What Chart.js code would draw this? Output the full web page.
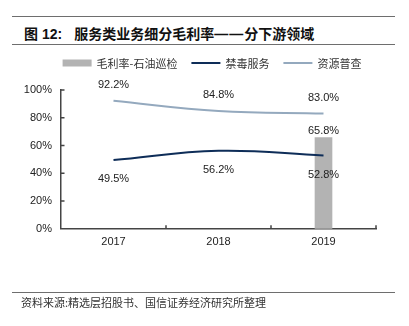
<!DOCTYPE html>
<html>
<head>
<meta charset="utf-8">
<script src="https://cdn.jsdelivr.net/npm/chart.js@4/dist/chart.umd.min.js"></script>
<style>
  html, body { margin: 0; padding: 0; background: #fff; }
  #wrap { position: relative; width: 409px; height: 326px; overflow: hidden; }
  #chart { position: absolute; left: 0; top: 0; }
  .rule { position: absolute; left: 12px; width: 383px; height: 0; border-top: 1.5px solid #6e6e6e; }
  #title { position: absolute; left: 24px; top: 23px; line-height: 18px; white-space: nowrap;
    font: bold 14px "Liberation Sans", "Noto Sans CJK SC", sans-serif; color: #111; }
  #title .num { margin-left: 4px; }
  #title .main { margin-left: 12px; }
  #title .dash { letter-spacing: 1px; }
  #source { position: absolute; left: 21px; top: 294px; line-height: 16px; white-space: nowrap;
    font: 11px "Noto Sans CJK SC", sans-serif; color: #333; }
</style>
</head>
<body>
<div id="wrap">
  <div class="rule" style="top:16px"></div>
  <div id="title"><span>图</span><span class="num">12:</span><span class="main">服务类业务细分毛利率</span><span class="dash">——</span><span>分下游领域</span></div>
  <div class="rule" style="top:44px"></div>
  <canvas id="chart" width="409" height="326"></canvas>
  <div class="rule" style="top:292px"></div>
  <div id="source">资料来源:精选层招股书、国信证券经济研究所整理</div>
</div>
<script>
const years = ["2017", "2018", "2019"]
const seriesNames = ["毛利率-石油巡检", "禁毒服务", "资源普查"]
const oilInspection = [null, null, 65.8]
const drugControl = [49.5, 56.2, 52.8]
const resourceSurvey = [92.2, 84.8, 83.0]
const yTicks = [0, 20, 40, 60, 80, 100]

const COLORS = {
  bar: "#b3b3b3",
  dark: "#0e2d58",
  light: "#94a9be",
  axis: "#444444",
  text: "#222222",
}
const LATIN = '"Liberation Sans", Arial, sans-serif'
const CJK = '"Noto Sans CJK SC", sans-serif'

function pct(v) {
  return v.toFixed(1) + "%"
}

// value labels: above for bar + top line, below for the dark line
const valueLabels = {
  id: "valueLabels",
  afterDatasetsDraw(chart) {
    const ctx = chart.ctx
    ctx.save()
    ctx.font = "11px " + LATIN
    ctx.fillStyle = COLORS.text
    ctx.textAlign = "center"
    ctx.textBaseline = "middle"
    chart.data.datasets.forEach((ds, i) => {
      const meta = chart.getDatasetMeta(i)
      meta.data.forEach((el, j) => {
        const v = ds.data[j]
        if (v == null) return
        let dy = -16
        if (ds.labelPos === "below") dy = 19
        if (ds.type === "bar") dy = -7
        ctx.fillText(pct(v), el.x, el.y + dy)
      })
    })
    ctx.restore()
  },
}

// small inward tick marks like the source chart
const innerTicks = {
  id: "innerTicks",
  afterDraw(chart) {
    const { ctx, chartArea } = chart
    const y = chart.scales.y
    ctx.save()
    ctx.strokeStyle = COLORS.axis
    ctx.lineWidth = 1.5
    ctx.beginPath()
    yTicks.forEach((t) => {
      if (t === 0) return
      const py = y.getPixelForValue(t)
      ctx.moveTo(chartArea.left, py)
      ctx.lineTo(chartArea.left + 3.5, py)
    })
    const step = (chartArea.right - chartArea.left) / years.length
    for (let i = 1; i <= years.length; i++) {
      const px = chartArea.left + step * i
      ctx.moveTo(px, chartArea.bottom)
      ctx.lineTo(px, chartArea.bottom - 3.5)
    }
    ctx.stroke()
    ctx.restore()
  },
}

// one-row legend, centred over the plot
const rowLegend = {
  id: "rowLegend",
  afterDraw(chart) {
    const ctx = chart.ctx
    ctx.save()
    ctx.font = "11px " + CJK
    ctx.textBaseline = "middle"
    const sw = 29, gap = 5, itemGap = 14, cy = 63
    const items = chart.data.datasets.map((ds) => ({
      text: ds.label,
      color: ds.type === "bar" ? ds.backgroundColor : ds.borderColor,
      bar: ds.type === "bar",
    }))
    const widths = items.map((it) => ctx.measureText(it.text).width)
    let total = itemGap * (items.length - 1)
    widths.forEach((w) => (total += sw + gap + w))
    let x = 212 - total / 2
    items.forEach((it, i) => {
      if (it.bar) {
        ctx.fillStyle = it.color
        ctx.fillRect(x, cy - 3.5, sw, 7)
      } else {
        ctx.strokeStyle = it.color
        ctx.lineWidth = 2
        ctx.beginPath()
        ctx.moveTo(x, cy)
        ctx.lineTo(x + sw, cy)
        ctx.stroke()
      }
      ctx.fillStyle = "#333"
      ctx.fillText(it.text, x + sw + gap, cy + 0.5)
      x += sw + gap + widths[i] + itemGap
    })
    ctx.restore()
  },
}

const config = {
  type: "bar",
  data: {
    labels: years,
    datasets: [
      {
        type: "bar",
        label: seriesNames[0],
        data: oilInspection,
        backgroundColor: COLORS.bar,
        barThickness: 17,
        order: 3,
      },
      {
        type: "line",
        label: seriesNames[1],
        data: drugControl,
        borderColor: COLORS.dark,
        borderWidth: 2,
        tension: 0.4,
        pointRadius: 0,
        labelPos: "below",
        order: 1,
      },
      {
        type: "line",
        label: seriesNames[2],
        data: resourceSurvey,
        borderColor: COLORS.light,
        borderWidth: 2,
        tension: 0.4,
        pointRadius: 0,
        order: 2,
      },
    ],
  },
  options: {
    responsive: false,
    animation: false,
    layout: { padding: { top: 90, left: 21, right: 33, bottom: 70 } },
    scales: {
      x: {
        offset: true,
        grid: { display: false, drawTicks: false },
        border: { display: true, color: COLORS.axis, width: 1.5 },
        ticks: { padding: 7, color: COLORS.text, font: { family: LATIN, size: 11 } },
      },
      y: {
        min: 0,
        max: 100,
        afterFit: (scale) => {
          scale.width = 40
        },
        afterBuildTicks: (scale) => {
          scale.ticks = yTicks.map((v) => ({ value: v }))
        },
        grid: { display: false, drawTicks: false },
        border: { display: true, color: COLORS.axis, width: 1.5 },
        ticks: {
          padding: 9,
          color: COLORS.text,
          font: { family: LATIN, size: 11 },
          callback: (v) => v + "%",
        },
      },
    },
    plugins: {
      legend: { display: false },
      tooltip: { enabled: false },
    },
  },
  plugins: [valueLabels, innerTicks, rowLegend],
}

new Chart(document.getElementById("chart"), config)
</script>
</body>
</html>
